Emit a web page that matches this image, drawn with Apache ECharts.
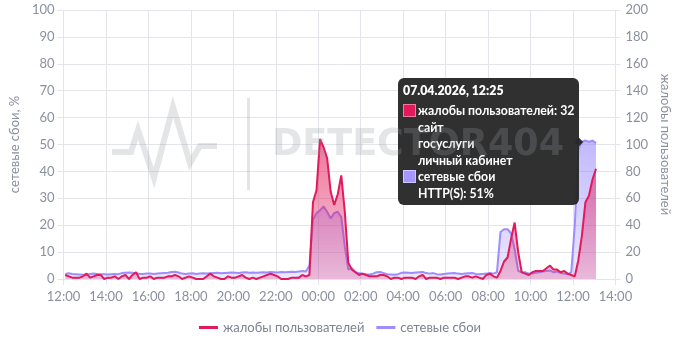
<!DOCTYPE html>
<html><head><meta charset="utf-8">
<script src="https://cdn.jsdelivr.net/npm/echarts@6/dist/echarts.min.js"></script>
<style>html,body{margin:0;padding:0;background:#fff}
#wrap{position:relative;width:680px;height:340px}
#c{width:680px;height:340px}
#wm{position:absolute;left:0;top:0;width:680px;height:340px;pointer-events:none;z-index:10000000}</style>
</head><body><div id="wrap"><div id="c"></div><div id="wm"></div></div>
<script>
// ---- data ----
const SERIES_NAMES = ['жалобы пользователей', 'сетевые сбои'];
const AXIS_NAMES = ['сетевые сбои, %', 'жалобы пользователей'];
const X_TICK_LABELS = ['12:00','14:00','16:00','18:00','20:00','22:00','00:00','02:00','04:00','06:00','08:00','10:00','12:00','14:00'];
const START = new Date(2026, 3, 6, 12, 5); // first sample
const STEP_MIN = 10;                        // minutes between samples
// complaints (right axis), one value per 10 minutes starting 12:05
const complaints = [
  3, 2, 1, 1, 1, 2, 4, 1, 2, 3,
  3, 0, 1, 1, 2, 0, 2, 3, 0, 3,
  5, 0, 1, 1, 2, 0, 1, 1, 1, 2,
  2, 3, 2, 0, 1, 2, 1, 0, 0, 0,
  2, 4, 2, 1, 0, 0, 2, 1, 1, 2,
  3, 1, 0, 1, 0, 1, 2, 3, 4, 3,
  2, 0, 0, 0, 1, 1, 1, 3, 2, 3,
  57, 66, 104, 98, 90, 65, 55, 63, 77, 50,
  12, 7, 5, 3, 4, 3, 2, 2, 2, 3,
  3, 2, 0, 1, 1, 0, 1, 1, 1, 0,
  2, 3, 0, 1, 1, 1, 0, 1, 1, 1,
  1, 0, 1, 2, 2, 1, 2, 1, 0, 3,
  4, 2, 1, 6, 13, 16, 30, 42, 20, 5,
  4, 3, 5, 6, 6, 6, 8, 10, 7, 7,
  5, 6, 4, 3, 2, 14, 32, 57, 62, 74, 82
];
// network failures, % (left axis)
const failures = [
  1.9, 2.1, 1.9, 1.8, 1.7, 1.6, 1.5, 1.9, 2, 1.9,
  1.8, 1.8, 1.7, 1.8, 1.9, 1.8, 2.2, 2.3, 2.4, 2.3,
  2.1, 1.9, 1.9, 2, 2, 1.9, 2, 2.1, 2.2, 2.3,
  2.6, 2.7, 2.4, 2, 1.9, 2, 2.1, 1.9, 2, 2.1,
  2, 2.1, 2.2, 2.3, 2.1, 2.2, 2.3, 2.4, 2.3, 2.2,
  2.4, 2.5, 2.3, 2.4, 2.3, 2.4, 2.5, 2.4, 2.6, 2.5,
  2.4, 2.6, 2.5, 2.6, 2.7, 2.6, 2.8, 3, 2.8, 5,
  22, 24.5, 25.5, 27, 25, 22.5, 24.5, 25, 23, 12,
  3.5, 4, 2.5, 2.2, 2, 1.8, 1.7, 2, 2.5, 2.6,
  2.2, 1.8, 1.7, 1.6, 1.8, 2.3, 2.4, 2.3, 2.2, 2.4,
  2.5, 2.6, 2.2, 2, 2.2, 1.8, 1.7, 1.9, 2, 2.1,
  2.2, 2, 1.9, 2, 2.1, 2.2, 1.9, 1.8, 1.9, 2,
  2.2, 2, 2.5, 17.5, 18.5, 18.5, 17, 11, 3, 2.5,
  2.5, 2, 2, 2.3, 2.5, 2.8, 3, 3.2, 2.5, 2.8,
  2.2, 2, 1.8, 2.5, 20, 48, 51, 51.5, 51, 51.5, 50.5
];
const TIP_INDEX = 146;               // 07.04.2026 12:25
const TIP_SERVICES = ['сайт', 'госуслуги', 'личный кабинет'];
const TIP_FAILURE_TYPE = 'HTTP(S)';
const WATERMARK = 'DETECTOR404';

// ---- helpers ----
const AXIS_START = new Date(2026, 3, 6, 12, 0);
function timeAt(i) { return new Date(START.getTime() + i * STEP_MIN * 60000); }
function hoursAt(i) { return (timeAt(i).getTime() - AXIS_START.getTime()) / 3600000; }
function pad(n) { return (n < 10 ? '0' : '') + n; }

const PINK = '#e2195b', PURPLE = '#9d8dff';
const FONT = 'Lato, "Noto Sans", sans-serif';
const LABEL = '#8b90a0', GRIDC = '#e3e5ea';
const WM_COLOR = 'rgba(150,153,162,0.26)';

function marker(bg, br) {
  return '<span style="display:inline-block;box-sizing:border-box;width:13px;height:13px;background:' + bg +
    ';border:1.5px solid ' + br + ';vertical-align:-2px;margin-right:2px"></span>';
}
function tipHtml() {
  const i = TIP_INDEX, t = timeAt(i);
  const title = pad(t.getDate()) + '.' + pad(t.getMonth() + 1) + '.' + t.getFullYear() + ', ' + pad(t.getHours()) + ':' + pad(t.getMinutes());
  const ind = '<div style="padding-left:15px">';
  let h = '<div style="line-height:18px;margin-bottom:3px;font-weight:800">' + title + '</div>';
  h += '<div>' + marker(PINK, '#f27ba2') + SERIES_NAMES[0] + ': ' + complaints[i] + '</div>';
  TIP_SERVICES.forEach(s => { h += ind + s + '</div>'; });
  h += '<div>' + marker('#a597ff', '#cfc7ff') + SERIES_NAMES[1] + '</div>';
  h += ind + TIP_FAILURE_TYPE + ': ' + Math.round(failures[i]) + '%</div>';
  return '<div style="line-height:16.5px;font-weight:700;white-space:nowrap">' + h + '</div>';
}

const chart = echarts.init(document.getElementById('c'));
const option = {
  animation: false,
  textStyle: { fontFamily: FONT },
  grid: { left: 57, right: 57, top: 10, bottom: 61 },
  tooltip: {
    trigger: 'item', triggerOn: 'none', alwaysShowContent: true, position: 'left',
    backgroundColor: 'rgba(40,40,40,0.96)', borderWidth: 0, padding: [4, 5, 3, 5],
    transitionDuration: 0,
    textStyle: { color: '#fff', fontSize: 12.3, fontFamily: FONT },
    extraCssText: 'border-radius:6px;box-shadow:none;margin-left:7px;',
    formatter: tipHtml
  },
  legend: {
    data: [SERIES_NAMES[0], SERIES_NAMES[1]],
    left: 'center', top: 316, itemWidth: 19, itemHeight: 3, itemGap: 12, icon: 'rect',
    textStyle: { color: '#7d8292', fontSize: 13, fontFamily: FONT }
  },
  xAxis: {
    type: 'value', min: 0, max: 26, interval: 2,
    axisLine: { show: false },
    axisTick: { show: true, length: 6, lineStyle: { color: GRIDC } },
    splitLine: { show: true, lineStyle: { color: GRIDC } },
    axisLabel: { color: LABEL, fontSize: 13, margin: 11, formatter: v => X_TICK_LABELS[Math.round(v / 2)] }
  },
  yAxis: [
    { type: 'value', min: 0, max: 100, interval: 10, position: 'left',
      name: AXIS_NAMES[0], nameLocation: 'middle', nameGap: 38,
      nameTextStyle: { color: LABEL, fontSize: 13 },
      axisLine: { show: false },
      axisTick: { show: true, length: 6, lineStyle: { color: GRIDC } },
      splitLine: { lineStyle: { color: GRIDC } },
      axisLabel: { color: LABEL, fontSize: 13, margin: 9 } },
    { type: 'value', min: 0, max: 200, interval: 20, position: 'right',
      name: AXIS_NAMES[1], nameLocation: 'middle', nameGap: 38, nameRotate: -90,
      nameTextStyle: { color: LABEL, fontSize: 13 },
      axisLine: { show: false },
      axisTick: { show: true, length: 5, lineStyle: { color: GRIDC } },
      splitLine: { show: false },
      axisLabel: { color: LABEL, fontSize: 13, margin: 10 } }
  ],
  series: [
    { name: SERIES_NAMES[1], type: 'line', yAxisIndex: 0, symbol: 'none', z: 2,
      data: failures.map((v, i) => [hoursAt(i), v]),
      itemStyle: { color: PURPLE },
      lineStyle: { color: PURPLE, width: 2 },
      areaStyle: { color: new echarts.graphic.LinearGradient(0, 0, 0, 1, [
        { offset: 0, color: 'rgba(145,128,255,0.8)' }, { offset: 1, color: 'rgba(160,145,255,0.3)' }]) } },
    { name: SERIES_NAMES[0], type: 'line', yAxisIndex: 1, symbol: 'none', z: 3,
      data: complaints.map((v, i) => [hoursAt(i), v]),
      itemStyle: { color: PINK },
      lineStyle: { color: PINK, width: 2 },
      areaStyle: { color: new echarts.graphic.LinearGradient(0, 0, 0, 1, [
        { offset: 0, color: 'rgba(226,25,91,0.85)' }, { offset: 1, color: 'rgba(226,25,91,0.32)' }]) } },
    { name: 'tip', type: 'scatter', yAxisIndex: 0, z: 4, symbolSize: 4,
      data: [[hoursAt(TIP_INDEX), failures[TIP_INDEX]]],
      itemStyle: { opacity: 0 }, tooltip: { show: true } }
  ]
};
chart.setOption(option);
setTimeout(() => chart.dispatchAction({ type: 'showTip', seriesIndex: 2, dataIndex: 0 }), 50);

// watermark logo, drawn in a transparent overlay above the chart and tooltip
const wm = echarts.init(document.getElementById('wm'));
wm.setOption({
  animation: false,
  graphic: [
    { type: 'polyline', silent: true,
      shape: { points: [[112,152],[131,152],[138,130],[154,178],[173,107],[190,163],[200,146],[217,146]] },
      style: { stroke: WM_COLOR, lineWidth: 6, fill: null, lineJoin: 'miter' } },
    { type: 'rect', silent: true, shape: { x: 247, y: 98, width: 3, height: 92 }, style: { fill: WM_COLOR } },
    { type: 'text', silent: true, x: 272, y: 146,
      style: { text: WATERMARK, fill: WM_COLOR, font: 'bold 36.5px "DejaVu Sans", sans-serif', verticalAlign: 'middle' } }
  ]
});
</script></body></html>
